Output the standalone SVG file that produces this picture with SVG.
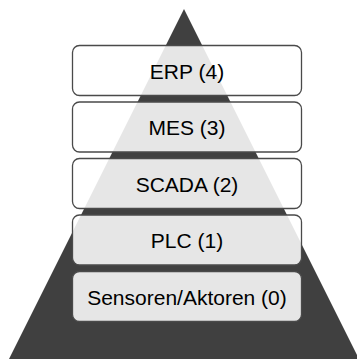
<svg xmlns="http://www.w3.org/2000/svg" width="357" height="359" viewBox="0 0 357 359">
  <style>
    .layer { fill: #ffffff; fill-opacity: 0.87; stroke: #4a4a4a; stroke-width: 1.3; }
    .label { font-family: "Liberation Sans", Arial, sans-serif; font-size: 21px; fill: #000000; text-anchor: middle; }
  </style>
  <rect width="357" height="359" fill="#ffffff"/>
  <!-- automation pyramid body -->
  <g id="pyramid">
    <polygon points="184,9 359,359 9,359" fill="#404040"/>
  </g>
  <!-- levels, top to bottom -->
  <g id="erp">
    <rect class="layer" x="72.5" y="45.5" width="229" height="50" rx="7"/>
    <text class="label" x="187" y="78.5">ERP (4)</text>
  </g>
  <g id="mes">
    <rect class="layer" x="72.5" y="102" width="229" height="50" rx="7"/>
    <text class="label" x="187" y="135">MES (3)</text>
  </g>
  <g id="scada">
    <rect class="layer" x="72.5" y="158.5" width="229" height="50" rx="7"/>
    <text class="label" x="187" y="191.5">SCADA (2)</text>
  </g>
  <g id="plc">
    <rect class="layer" x="72.5" y="215" width="229" height="50" rx="7"/>
    <text class="label" x="187" y="248">PLC (1)</text>
  </g>
  <g id="sensors">
    <rect class="layer" x="72.5" y="271.5" width="229" height="50" rx="7"/>
    <text class="label" x="187" y="304.5">Sensoren/Aktoren (0)</text>
  </g>
  <g id="connectors"/>
</svg>
